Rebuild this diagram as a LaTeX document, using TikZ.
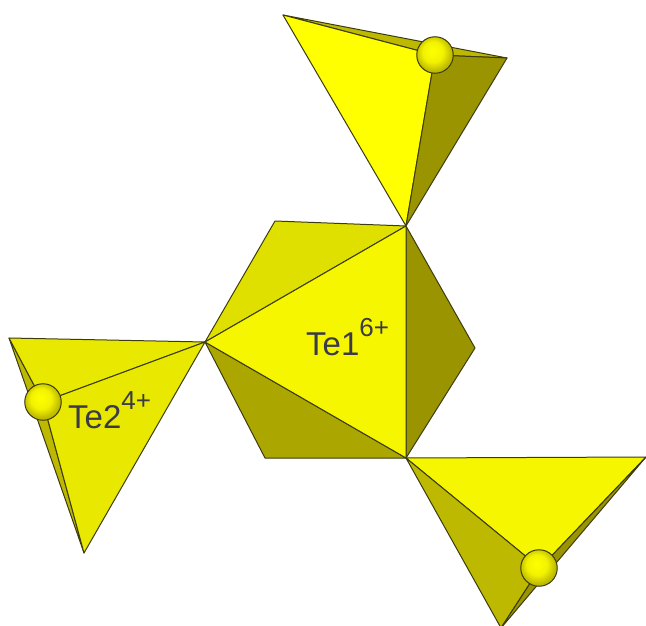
\documentclass[tikz,border=0pt]{standalone}
\usepackage{fontspec}
\setmainfont{Liberation Sans}
\definecolor{lit}{HTML}{FFFF00}
\definecolor{face}{HTML}{F6F600}
\definecolor{pale}{HTML}{E0E000}
\definecolor{side}{HTML}{E8E800}
\definecolor{olive}{HTML}{BDB900}
\definecolor{shade}{HTML}{ABA700}
\definecolor{dark}{HTML}{999400}
\definecolor{rim}{HTML}{3C3C10}
\definecolor{ink}{HTML}{3A3A48}
\pgfdeclareradialshading{atomball}{\pgfpoint{-4bp}{6bp}}{%
  color(0bp)=(lit); color(14bp)=(lit!95!black); color(25bp)=(olive); color(50bp)=(olive)}
\tikzset{
  facet/.style={fill=#1, draw=rim, line width=1pt, line join=round},
  atom/.style={circle, minimum size=36.5pt, inner sep=0pt, draw=rim, line width=1pt, shading=atomball},
  lbl/.style={font=\fontsize{33}{33}\selectfont, text=ink, inner sep=0pt, anchor=base west}
}
\begin{document}
\begin{tikzpicture}[x=1pt,y=-1pt]
  \useasboundingbox (0,0) rectangle (646,626);
  \clip (0,0) rectangle (646,626);
  % octahedron
  \draw[facet=pale] (275,221) -- (406,226) -- (205,342) -- cycle;
  \draw[facet=shade] (205,342) -- (406,458) -- (265,458) -- cycle;
  \draw[facet=dark] (406,226) -- (475,348) -- (406,458) -- cycle;
  \draw[facet=face] (205,342) -- (406,226) -- (406,458) -- cycle;
  % top tetrahedron
  \draw[facet=olive] (283,15) -- (507,58) -- (435,55) -- cycle;
  \draw[facet=lit] (283,15) -- (435,55) -- (406,226) -- cycle;
  \draw[facet=dark] (507,58) -- (435,55) -- (406,226) -- cycle;
  % left tetrahedron
  \draw[facet=olive] (9,338) -- (43,402) -- (84,553) -- cycle;
  \draw[facet=side] (9,338) -- (205,342) -- (43,402) -- cycle;
  \draw[facet=side] (205,342) -- (43,402) -- (84,553) -- cycle;
  % right tetrahedron
  \draw[facet=face] (406,458) -- (646,457) -- (540,568) -- cycle;
  \draw[facet=olive] (406,458) -- (540,568) -- (501,628) -- cycle;
  \draw[facet=dark] (646,457) -- (540,568) -- (501,628) -- cycle;
  % lone pairs
  \foreach \x/\y/\nm in {435/55/topatom, 43/402/leftatom, 539/568/rightatom} {
    \node[atom] (\nm) at (\x,\y) {};
  }
  \node[lbl] (teone) at (306,355) {Te1\raisebox{19pt}{\fontsize{26}{26}\selectfont 6+}};
  \node[lbl] (tetwo) at (68,428) {Te2\raisebox{19pt}{\fontsize{26}{26}\selectfont 4+}};
\end{tikzpicture}
\end{document}
